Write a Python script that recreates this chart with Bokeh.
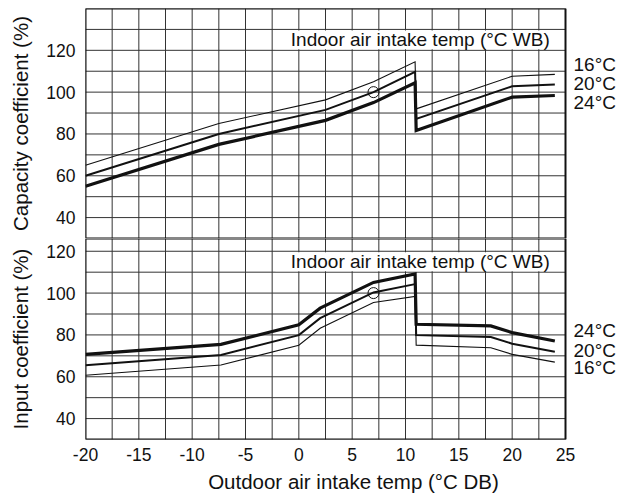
from bokeh.plotting import figure
from bokeh.layouts import column
from bokeh.models import FixedTicker, Range1d
from bokeh.core.properties import value
from bokeh.embed import file_html
from bokeh.resources import INLINE

FONT = "Liberation Sans"
INK = "#111111"
GRID = "#333333"

# ---- data ----
x_ticks = [-20, -15, -10, -5, 0, 5, 10, 15, 20, 25]
x_tick_labels = ["-20", "-15", "-10", "-5", "0", "5", "10", "15", "20", "25"]
x_grid = [-20 + 2.5 * i for i in range(19)]
y_ticks = [40, 60, 80, 100, 120]
cap_grid = [30, 40, 50, 60, 70, 80, 90, 100, 110, 120, 130, 140]
inp_grid = [30, 40, 50, 60, 70, 80, 90, 100, 110, 120]

cap_x = [-20, -7.5, 2.5, 7, 10.9, 11, 20, 24]
cap_16 = [65, 85, 96.3, 105, 114.5, 92, 107.6, 108.5]
cap_20 = [60, 80, 91.5, 100, 109.7, 87.2, 102.8, 103.7]
cap_24 = [55, 75, 86.5, 95, 104.5, 81.6, 97.6, 98.4]

inp_x = [-20, -7.3, 0, 2, 7, 10.9, 11, 18, 20, 24]
inp_24 = [70.7, 75.5, 84.8, 92.8, 105.1, 109.2, 85.1, 84.3, 81.1, 77.1]
inp_20 = [65.5, 70.4, 79.9, 88, 100.3, 104.3, 79.9, 79, 75.8, 72]
inp_16 = [60.7, 65.6, 75.1, 83.2, 95.5, 98.4, 75.1, 73.9, 70.7, 67]

rated_x = [7]
rated_y = [100]

series_labels = ["16°C", "20°C", "24°C"]
cap_label_y = [113.1, 104.0, 95.2]
inp_label_y = [64.4, 72.5, 82.1]
line_widths = [1.1, 2.0, 3.2]

indoor_title = "Indoor air intake temp (°C WB)"

X0, X1 = -20, 25          # plotted domain
PX_PER_UNIT = 480 / 45
FRAME_W = 536
XR_END = X0 + FRAME_W / PX_PER_UNIT   # extra room at right for series labels


def style_yaxis(p, title):
    ax = p.yaxis[0]
    ax.ticker = FixedTicker(ticks=y_ticks, minor_ticks=[])
    ax.axis_label = title
    ax.axis_line_color = None
    ax.major_tick_out = 0
    ax.major_tick_in = 0
    ax.minor_tick_out = 0
    ax.minor_tick_in = 0
    ax.major_label_text_font = FONT
    ax.major_label_text_font_size = "17.5px"
    ax.major_label_text_color = INK
    ax.major_label_standoff = 10
    ax.axis_label_text_font = FONT
    ax.axis_label_text_font_size = "20.5px"
    ax.axis_label_text_font_style = "normal"
    ax.axis_label_text_color = INK
    ax.axis_label_standoff = 11


def base(frame_h, y0, y1, with_xaxis, top_border):
    p = figure(
        frame_width=FRAME_W, frame_height=frame_h,
        x_range=Range1d(X0, XR_END), y_range=Range1d(y0, y1),
        output_backend="svg", toolbar_location=None,
        x_axis_location="below" if with_xaxis else None,
        min_border_left=85, min_border_right=0,
        min_border_top=top_border, min_border_bottom=0,
        background_fill_color="white", border_fill_color="white",
    )
    p.outline_line_color = None
    p.ygrid.grid_line_color = None
    if p.xgrid:
        p.xgrid.grid_line_color = None
    return p


def draw_grid(p, ygrid, y0, y1):
    p.segment(x0=[X0] * len(ygrid), x1=[X1] * len(ygrid), y0=ygrid, y1=ygrid,
              line_color=GRID, line_width=1)
    p.segment(x0=x_grid, x1=x_grid, y0=[y0] * len(x_grid), y1=[y1] * len(x_grid),
              line_color=GRID, line_width=1)


def add_title_band(p, band_lo, band_hi):
    p.quad(left=[-2.2], right=[X1], bottom=[band_lo + 0.5], top=[band_hi - 0.5],
           fill_color="white", line_color=None)
    p.text(x=[-0.75], y=[(band_lo + band_hi) / 2], text=[indoor_title],
           text_baseline="middle", text_align="left",
           text_font=value(FONT), text_font_size="19px", text_color=INK)


def add_outline(p, y0, y1):
    p.quad(left=[X0], right=[X1], bottom=[y0], top=[y1], fill_color=None,
           line_color=INK, line_width=2)


def add_side_labels(p, ys):
    p.text(x=[X1 + 0.75] * len(ys), y=ys, text=series_labels,
           text_baseline="middle", text_align="left",
           text_font=value(FONT), text_font_size="19px", text_color=INK)


# ---- top: capacity ----
CAP_Y0, CAP_Y1 = 30, 140
p1 = base(230, CAP_Y0, CAP_Y1, False, 8)
draw_grid(p1, cap_grid, CAP_Y0, CAP_Y1)
style_yaxis(p1, "Capacity coefficient (%)")
add_title_band(p1, 120, 130)
for ys, lw in zip([cap_16, cap_20, cap_24], line_widths):
    p1.line(cap_x, ys, line_color=INK, line_width=lw, line_join="miter")
p1.scatter(rated_x, rated_y, marker="circle", size=11, fill_color=None,
           line_color=INK, line_width=1)
add_outline(p1, CAP_Y0, CAP_Y1)
add_side_labels(p1, cap_label_y)

# ---- bottom: input ----
INP_Y0, INP_Y1 = 30, 126.1
p2 = base(201, INP_Y0, INP_Y1, True, 0)
draw_grid(p2, inp_grid, INP_Y0, INP_Y1)
style_yaxis(p2, "Input coefficient (%)")
add_title_band(p2, 110, 120)
for ys, lw in zip([inp_16, inp_20, inp_24], line_widths):
    p2.line(inp_x, ys, line_color=INK, line_width=lw, line_join="miter")
p2.scatter(rated_x, rated_y, marker="circle", size=11, fill_color=None,
           line_color=INK, line_width=1)
add_outline(p2, INP_Y0, INP_Y1)
add_side_labels(p2, inp_label_y)

xa = p2.xaxis[0]
xa.ticker = FixedTicker(ticks=x_ticks, minor_ticks=[])
xa.major_label_overrides = {t: s for t, s in zip(x_ticks, x_tick_labels)}
xa.axis_label = "Outdoor air intake temp (°C DB)"
xa.axis_line_color = None
xa.major_tick_out = 0
xa.major_tick_in = 0
xa.minor_tick_out = 0
xa.minor_tick_in = 0
xa.major_label_text_font = FONT
xa.major_label_text_font_size = "17.5px"
xa.major_label_text_color = INK
xa.major_label_standoff = 8
xa.axis_label_text_font = FONT
xa.axis_label_text_font_size = "20.5px"
xa.axis_label_text_font_style = "normal"
xa.axis_label_text_color = INK
xa.axis_label_standoff = 6

layout = column(p1, p2, spacing=0)
open("out.html", "w").write(file_html(layout, INLINE))
